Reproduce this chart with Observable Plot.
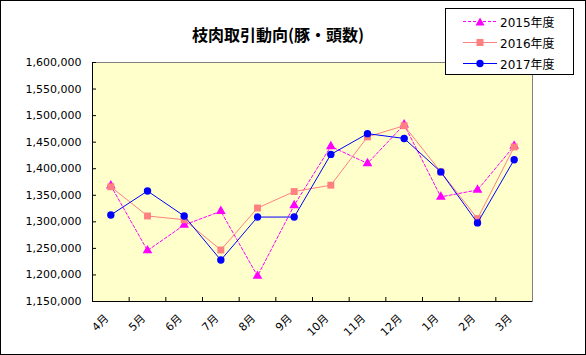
<!DOCTYPE html>
<html><head><meta charset="utf-8">
<script src="https://cdn.jsdelivr.net/npm/d3@7"></script>
<script src="https://cdn.jsdelivr.net/npm/@observablehq/plot@0.6"></script>
<style>
body{margin:0;background:#fff;}
#wrap{position:relative;width:586px;height:355px;overflow:hidden;background:#fff;}
#chart{position:absolute;left:0;top:0;}
#title{position:absolute;left:178px;width:200px;top:22px;text-align:center;font:bold 16px "Noto Sans CJK JP",sans-serif;color:#000;white-space:nowrap;}
#legend{position:absolute;left:445px;top:8px;width:129px;height:67px;box-sizing:border-box;border:1px solid #000;background:#fff;font:12px "DejaVu Sans","Noto Sans CJK JP",sans-serif;color:#000;}
.row{position:absolute;left:0;height:16px;display:flex;align-items:center;}
.row svg{margin-left:17px;}
.row span{margin-left:2px;}
#frame{position:absolute;left:0;top:0;width:586px;height:355px;box-sizing:border-box;border:1px solid #000;pointer-events:none;}
</style></head><body>
<div id="wrap"><div id="chart"></div><div id="title"></div><div id="legend"></div><div id="frame"></div></div>
<script>
const title = "枝肉取引動向(豚・頭数)";
const months = ["4月","5月","6月","7月","8月","9月","10月","11月","12月","1月","2月","3月"];
const seriesNames = ["2015年度","2016年度","2017年度"];
const v2015 = [1368000, 1246000, 1294000, 1320000, 1198000, 1331000, 1442000, 1410000, 1483000, 1347000, 1360000, 1443000];
const v2016 = [1366000, 1311000, 1304000, 1247000, 1326000, 1357000, 1369000, 1460000, 1481000, 1394000, 1306000, 1441000];
const v2017 = [1313000, 1358000, 1311000, 1228000, 1309000, 1309000, 1427000, 1466000, 1457000, 1394000, 1298000, 1417000];
const yTicks = d3.range(1150000, 1600001, 50000);

const styles = [
  {color:"#FF00FF", dash:"3,2", symbol:"triangle", r:3.6},
  {color:"#FF8080", dash:null, symbol:"square", r:3.9},
  {color:"#0000FF", dash:null, symbol:"circle", r:3.7}
];
const seriesVals = [v2015, v2016, v2017];

const seriesMarks = seriesVals.flatMap((vals, s) => {
  const rows = months.map((m, i) => ({x: i + 0.5, y: vals[i]}));
  const st = styles[s];
  return [
    Plot.line(rows, {x:"x", y:"y", stroke: st.color, strokeWidth: 1, strokeDasharray: st.dash}),
    Plot.dot(rows, {x:"x", y:"y", symbol: st.symbol, r: st.r, fill: st.color, stroke: "none"})
  ];
});

const chart = Plot.plot({
  width: 586, height: 355,
  marginLeft: 92, marginRight: 54, marginTop: 62, marginBottom: 54,
  style: {fontFamily: '"DejaVu Sans","Noto Sans CJK JP",sans-serif', fontSize: "11px", color: "#000", background: "transparent"},
  x: {domain: [0, 12], axis: null},
  y: {domain: [1150000, 1600000], axis: null},
  marks: [
    Plot.frame({fill: "#FFFFCC", stroke: "#808080"}),
    Plot.axisY(yTicks, {label: null, tickSize: -4, tickPadding: 15, tickFormat: d3.format(","), stroke: "#000"}),
    Plot.axisX(d3.range(1, 12), {label: null, tickSize: -4, tickFormat: () => "", stroke: "#000"}),
    Plot.axisX(months.map((m, i) => i + 0.5), {label: null, tickSize: 0, tickPadding: 15, dx: -4, tickRotate: -45, tickFormat: d => months[Math.floor(d)]}),
    Plot.ruleX([0], {stroke: "#000"}),
    Plot.ruleY([1150000], {stroke: "#000"}),
    ...seriesMarks
  ]
});
document.getElementById("chart").appendChild(chart);
document.getElementById("title").textContent = title;

const legend = document.getElementById("legend");
const symPaths = {
  triangle: '<path d="M17,2.5L21.5,10.5L12.5,10.5Z"/>',
  square: '<rect x="13.5" y="3" width="7" height="7"/>',
  circle: '<circle cx="17" cy="6.5" r="3.7"/>'
};
seriesNames.forEach((name, s) => {
  const st = styles[s];
  const row = document.createElement("div");
  row.className = "row";
  row.style.top = (4 + s * 21) + "px";
  row.innerHTML = `<svg width="35" height="13"><line x1="0" x2="34" y1="6.5" y2="6.5" stroke="${st.color}" stroke-width="1" ${st.dash ? `stroke-dasharray="${st.dash}"` : ""}/><g fill="${st.color}">${symPaths[st.symbol]}</g></svg><span>${name}</span>`;
  legend.appendChild(row);
});
</script>
</body></html>
